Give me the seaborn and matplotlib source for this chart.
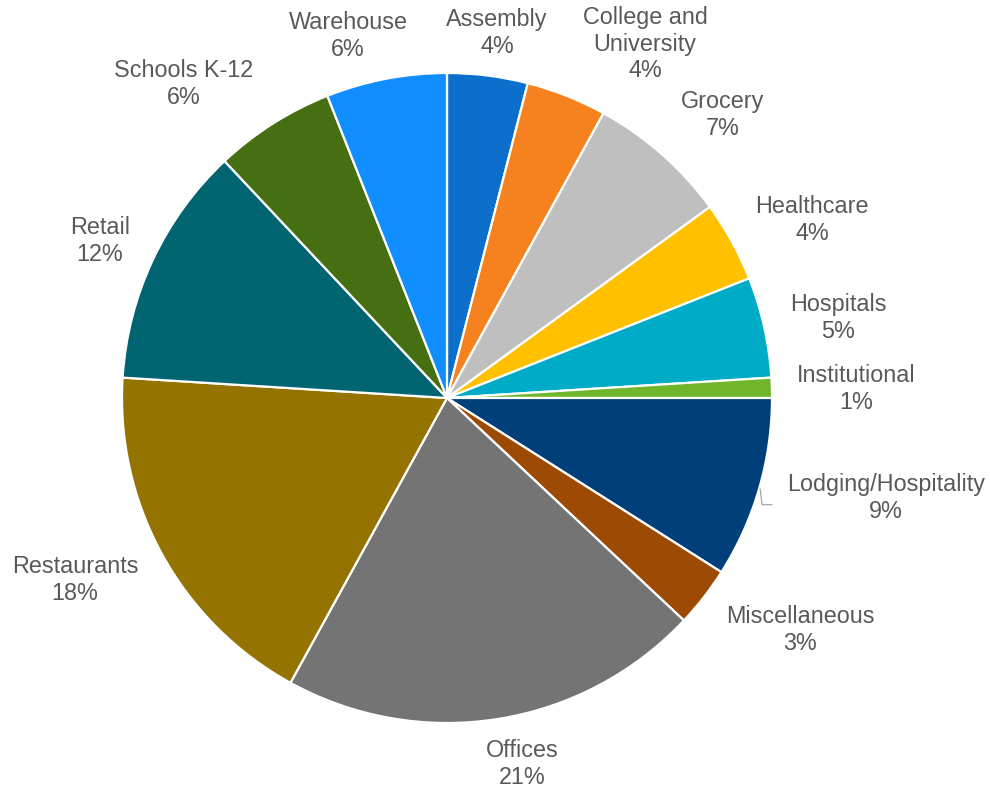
import numpy as np
import matplotlib
matplotlib.use("Agg")
import matplotlib.pyplot as plt
import seaborn as sns

# Building-type share of the total
categories = ["Assembly", "College and\nUniversity", "Grocery", "Healthcare", "Hospitals",
              "Institutional", "Lodging/Hospitality", "Miscellaneous", "Offices",
              "Restaurants", "Retail", "Schools K-12", "Warehouse"]
shares = [4, 4, 7, 4, 5, 1, 9, 3, 21, 18, 12, 6, 6]
colors = ["#0B6FCB", "#F5821F", "#BFBFBF", "#FFC000", "#00ABC7", "#70B52A", "#003F7A",
          "#9C4A04", "#747474", "#957300", "#006571", "#466F12", "#108EFF"]

# Label anchor positions in pixel layout (x, y from top)
label_pos = [(497, 33), (645, 44), (723, 115), (812, 220), (838, 318), (856, 389),
             (886, 498), (800, 630), (522, 764), (75, 580), (100, 241), (184, 84), (348, 36)]

sns.set_theme(style="white")
plt.rcParams["font.family"] = ["Liberation Sans", "DejaVu Sans"]

W, H = 990, 793
fig = plt.figure(figsize=(W / 100, H / 100), dpi=100)
ax = fig.add_axes([0, 0, 1, 1])

cx, cy, r = 447, H - 398, 325
palette = sns.color_palette(colors)
wedges, _ = ax.pie(shares, colors=palette, startangle=90, counterclock=False,
                   center=(cx, cy), radius=r, frame=True,
                   wedgeprops=dict(edgecolor="white", linewidth=1.6))
ax.set_xlim(0, W)
ax.set_ylim(0, H)
ax.set_aspect("equal")
ax.axis("off")

for name, val, (lx, ly) in zip(categories, shares, label_pos):
    ax.text(lx, H - ly, f"{name}\n{val}%", ha="center", va="center",
            fontsize=16.8, color="#595959", linespacing=1.22)

# Leader line for the Lodging/Hospitality label
w = wedges[6]
mid = np.deg2rad((w.theta1 + w.theta2) / 2)
x0, y0 = cx + r * np.cos(mid), cy + r * np.sin(mid)
ax.plot([x0 + 1, x0 + 3, x0 + 13], [y0, y0 - 16, y0 - 16], color="#A6A6A6", lw=0.9)

fig.savefig("out.png", dpi=100, facecolor="white")
